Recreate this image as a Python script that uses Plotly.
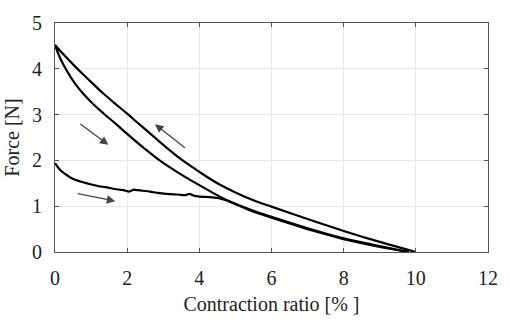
import plotly.graph_objects as go

# Unloading curve (upper)
upper_x = [0, 0.24, 0.52, 0.79, 1.07, 1.34, 1.71, 2.0, 2.35, 2.72, 3.09, 3.5, 4.0, 4.5, 5.0, 5.5, 6.0, 7.0, 8.0, 9.0, 10.0]
upper_y = [4.52, 4.31, 4.08, 3.87, 3.66, 3.46, 3.21, 3.02, 2.78, 2.53, 2.28, 2.02, 1.75, 1.50, 1.30, 1.13, 0.99, 0.72, 0.46, 0.22, 0.0]

# Second loading curve (middle)
middle_x = [0, 0.15, 0.34, 0.56, 0.79, 1.07, 1.34, 1.71, 2.0, 2.45, 2.9, 3.4, 4.0, 4.74, 5.5, 6.0, 7.0, 8.0, 9.0, 9.8]
middle_y = [4.52, 4.22, 3.94, 3.67, 3.45, 3.22, 3.03, 2.78, 2.58, 2.28, 2.00, 1.74, 1.46, 1.14, 0.90, 0.77, 0.52, 0.30, 0.13, 0.0]

# First loading curve
first_x = [0, 0.1, 0.2, 0.29, 0.4, 0.52, 0.75, 0.98, 1.2, 1.44, 1.7, 1.9, 2.05, 2.1, 2.17, 2.4, 2.63, 2.85, 3.09,
           3.3, 3.46, 3.6, 3.73, 3.85, 4.0, 4.28, 4.51, 4.74, 5.5, 6.0, 7.0, 8.0, 9.0, 9.8]
first_y = [1.94, 1.83, 1.75, 1.70, 1.64, 1.59, 1.53, 1.48, 1.44, 1.41, 1.37, 1.35, 1.32, 1.33, 1.36, 1.34, 1.32, 1.29, 1.27,
           1.26, 1.25, 1.24, 1.27, 1.23, 1.21, 1.20, 1.18, 1.13, 0.88, 0.75, 0.50, 0.28, 0.11, 0.0]

# Arrows: (tail_x, tail_y, head_x, head_y)
arrows = [
    (0.66, 2.82, 1.48, 2.34),
    (3.64, 2.25, 2.77, 2.79),
    (0.59, 1.28, 1.67, 1.11),
]

x_ticks = [0, 2, 4, 6, 8, 10, 12]
y_ticks = [0, 1, 2, 3, 4, 5]

fig = go.Figure()
fig.add_trace(go.Scatter(x=first_x, y=first_y, mode="lines",
                         line=dict(color="black", width=2.2, shape="spline", smoothing=0.3),
                         showlegend=False, hoverinfo="skip"))
for xs, ys in [(middle_x, middle_y), (upper_x, upper_y)]:
    fig.add_trace(go.Scatter(x=xs, y=ys, mode="lines",
                             line=dict(color="black", width=2.2, shape="spline", smoothing=1.0),
                             showlegend=False, hoverinfo="skip"))

for tx, ty, hx, hy in arrows:
    fig.add_annotation(x=hx, y=hy, ax=tx, ay=ty, xref="x", yref="y", axref="x", ayref="y",
                       showarrow=True, arrowhead=2, arrowsize=1.3, arrowwidth=1.3, arrowcolor="#444444", text="")

font = dict(family="Liberation Serif", size=20, color="#222222")
axis_common = dict(showgrid=True, gridcolor="#e8e8e8", gridwidth=1, zeroline=False,
                   showline=True, linecolor="#555555", linewidth=1.2, mirror="ticks",
                   ticks="inside", ticklen=4, tickcolor="#555555", tickfont=font)

fig.update_xaxes(range=[0, 12], tickvals=x_ticks, ticklabelstandoff=8,
                 title=dict(text="Contraction ratio [% ]", font=font, standoff=8), **axis_common)
fig.update_yaxes(range=[0, 5], tickvals=y_ticks, ticklabelstandoff=8,
                 title=dict(text="Force [N]", font=font, standoff=6), **axis_common)

fig.update_layout(width=510, height=323, margin=dict(l=54.5, r=20, t=13, b=71),
                  plot_bgcolor="white", paper_bgcolor="white", font=font)

fig.write_html("out.html", config={"displayModeBar": False},
               post_script="document.body.style.margin='0';")
